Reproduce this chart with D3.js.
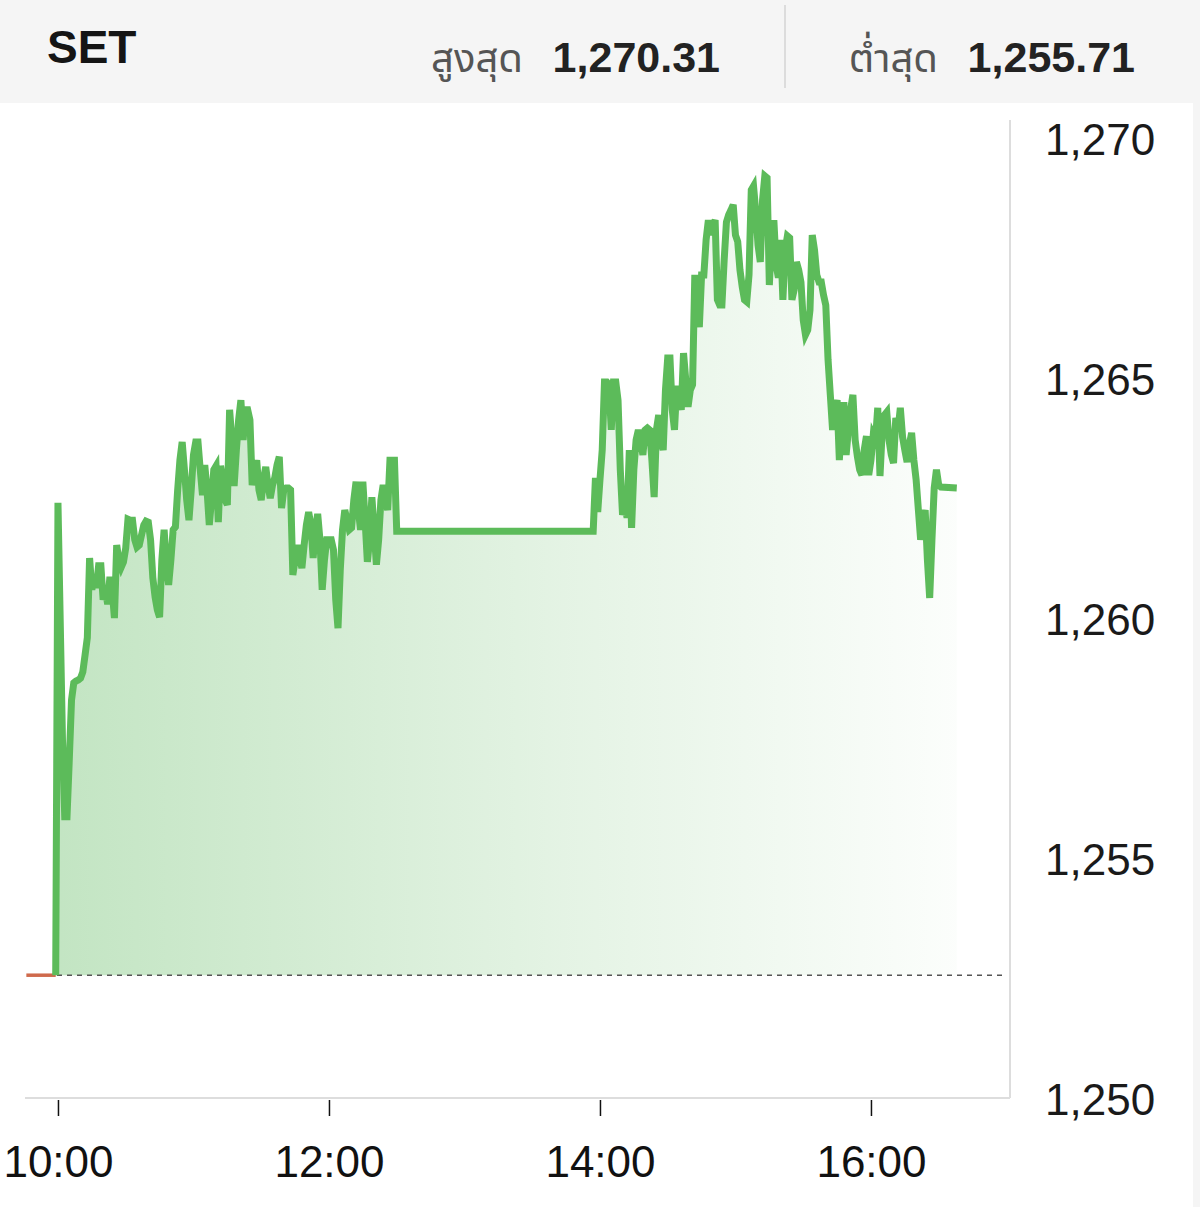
<!DOCTYPE html>
<html><head><meta charset="utf-8">
<script src="https://cdn.jsdelivr.net/npm/d3@7"></script>
<style>body{margin:0;background:#fff;} svg{display:block}</style>
</head><body>
<svg id="c" width="1200" height="1207"></svg>
<script>
const indexName = "SET";
const highLabel = "สูงสุด";
const highValue = 1270.31;
const lowLabel = "ต่ำสุด";
const lowValue = 1255.71;
const prevClose = 1252.60;
const yTicks = [1250, 1255, 1260, 1265, 1270];
const xTicks = ["10:00", "12:00", "14:00", "16:00"];
const preOpenTimes = ["09:46", "09:59"];
const preOpenPrices = [1252.60, 1252.60];

const times = [
"09:59","10:00","10:02","10:03","10:04","10:05","10:06","10:07","10:08","10:09","10:10","10:11","10:12","10:13","10:14","10:15","10:16","10:17","10:18","10:19","10:20","10:21","10:22","10:23","10:24","10:25","10:26","10:27","10:28","10:29","10:30","10:31","10:32","10:33","10:34","10:35","10:36","10:37","10:38","10:39","10:40","10:41","10:42","10:43","10:44","10:45","10:46","10:47","10:48","10:49","10:50","10:51","10:52","10:53","10:54","10:55","10:56","10:57","10:58","10:59",
"11:00","11:01","11:02","11:03","11:04","11:05","11:06","11:07","11:08","11:09","11:10","11:11","11:12","11:13","11:14","11:15","11:16","11:17","11:18","11:19","11:20","11:21","11:22","11:23","11:24","11:25","11:26","11:27","11:28","11:29","11:30","11:31","11:32","11:33","11:34","11:35","11:36","11:37","11:38","11:39","11:40","11:41","11:42","11:43","11:44","11:45","11:46","11:47","11:48","11:49","11:50","11:51","11:52","11:53","11:54","11:55","11:56","11:57","11:58","11:59",
"12:00","12:01","12:02","12:03","12:04","12:05","12:06","12:07","12:08","12:09","12:10","12:11","12:12","12:13","12:14","12:15","12:16","12:17","12:18","12:19","12:20","12:21","12:22","12:23","12:24","12:25","12:26","12:27","12:28","12:29","12:30",
"13:57","13:58","13:59",
"14:00","14:01","14:02","14:03","14:04","14:05","14:06","14:07","14:08","14:09","14:10","14:11","14:12","14:13","14:14","14:15","14:16","14:17","14:18","14:19","14:20","14:21","14:22","14:23","14:24","14:25","14:26","14:27","14:28","14:29","14:30","14:31","14:32","14:33","14:34","14:35","14:36","14:37","14:38","14:39","14:40","14:41","14:42","14:43","14:44","14:45","14:46","14:47","14:48","14:49","14:50","14:51","14:52","14:53","14:54","14:55","14:56","14:57","14:58","14:59",
"15:00","15:01","15:02","15:03","15:04","15:05","15:06","15:07","15:08","15:09","15:10","15:11","15:12","15:13","15:14","15:15","15:16","15:17","15:18","15:19","15:20","15:21","15:22","15:23","15:24","15:25","15:26","15:27","15:28","15:29","15:30","15:31","15:32","15:33","15:34","15:35","15:36","15:37","15:38","15:39","15:40","15:41","15:42","15:43","15:44","15:45","15:46","15:47","15:48","15:49","15:50","15:51","15:52","15:53","15:54","15:55","15:56","15:57","15:58","15:59",
"16:00","16:01","16:02","16:03","16:04","16:05","16:06","16:07","16:08","16:09","16:10","16:11","16:12","16:13","16:14","16:15","16:16","16:17","16:18","16:19","16:20","16:21","16:22","16:23","16:24","16:25","16:26","16:27","16:28","16:29","16:30","16:31","16:38"
];

const prices = [
1252.60,1262.44,1257.50,1255.90,1255.90,1257.08,1258.33,1258.69,1258.73,1258.75,1258.79,1258.92,1259.27,1259.63,1261.29,1260.63,1260.94,1260.67,1261.13,1261.13,1260.42,1260.63,1260.33,1260.90,1260.63,1260.04,1261.56,1261.25,1261.10,1261.21,1261.50,1262.10,1262.08,1262.08,1261.67,1261.52,1261.56,1261.77,1261.98,1262.06,1262.04,1261.67,1260.88,1260.48,1260.21,1260.06,1261.25,1261.88,1261.15,1260.73,1261.25,1261.88,1261.94,1262.71,1263.33,1263.71,1263.13,1262.50,1262.08,1262.71,
1263.44,1263.71,1263.71,1263.13,1262.60,1263.23,1262.71,1261.98,1262.50,1263.13,1263.21,1262.04,1263.21,1262.92,1262.50,1262.40,1264.38,1263.75,1262.79,1263.54,1264.17,1264.58,1263.75,1264.38,1264.38,1264.17,1262.81,1263.13,1263.33,1262.71,1262.50,1262.92,1263.19,1262.81,1262.54,1262.81,1262.96,1263.23,1263.40,1262.33,1262.71,1262.75,1262.75,1262.71,1260.94,1261.25,1261.56,1261.35,1261.08,1261.56,1261.98,1262.25,1261.98,1261.29,1261.88,1262.21,1261.67,1260.63,1261.25,1261.67,
1261.67,1261.67,1261.46,1260.42,1259.83,1261.04,1261.88,1262.29,1262.08,1261.88,1261.92,1262.50,1262.88,1262.29,1261.88,1262.88,1262.08,1261.21,1261.67,1262.56,1261.88,1261.15,1261.67,1262.50,1262.81,1262.50,1262.29,1263.33,1263.33,1263.33,1261.85,
1261.85,1262.96,1262.25,
1262.92,1263.54,1264.96,1264.96,1264.90,1263.96,1264.96,1264.96,1264.58,1263.13,1262.19,1262.40,1262.13,1263.54,1261.92,1263.13,1263.75,1263.96,1263.75,1263.44,1263.96,1264.00,1263.96,1263.33,1262.56,1263.96,1264.27,1263.75,1263.54,1264.79,1265.46,1265.46,1264.38,1263.96,1264.88,1264.58,1264.38,1265.56,1265.00,1264.44,1264.79,1264.90,1267.19,1266.67,1266.10,1267.19,1267.19,1267.92,1268.33,1268.02,1268.23,1268.33,1266.67,1266.56,1266.56,1267.50,1268.29,1268.44,1268.54,1268.65,
1268.02,1267.88,1267.29,1266.94,1266.67,1266.63,1267.19,1268.96,1269.04,1268.50,1267.81,1267.46,1268.75,1269.25,1269.21,1266.98,1267.92,1268.33,1267.40,1267.13,1267.92,1266.67,1267.71,1268.00,1267.96,1266.67,1266.88,1267.46,1267.29,1267.04,1266.25,1265.94,1266.04,1266.46,1268.02,1267.71,1267.19,1267.04,1267.04,1266.77,1266.56,1265.42,1264.69,1263.96,1264.38,1264.58,1263.33,1264.17,1264.54,1263.44,1263.96,1264.38,1264.69,1263.75,1263.40,1263.13,1263.02,1263.54,1263.83,1263.02,
1263.33,1263.85,1263.75,1264.42,1263.00,1263.96,1264.27,1264.33,1263.75,1263.44,1263.27,1264.21,1263.96,1264.42,1263.81,1263.54,1263.29,1263.65,1263.90,1263.33,1262.92,1262.29,1261.67,1262.08,1262.29,1261.25,1260.46,1261.67,1262.75,1263.13,1262.81,1262.77,1262.75
];

const parse = d3.timeParse("%H:%M");
const parseS = d3.timeParse("%H:%M:%S");
const n = Math.min(times.length, prices.length);
const data = d3.range(n).map(i => ({t: parse(times[i]), v: prices[i]}));
const preData = preOpenTimes.map((t, i) => ({t: parse(t), v: preOpenPrices[i]}));

const svg = d3.select("#c");
const FONT = "'Liberation Sans', Arial, Helvetica, sans-serif";
const THAI = "'Noto Sans Thai', 'Noto Sans Thai UI', 'Loma', 'Garuda', 'Noto Sans', sans-serif";

// header band
svg.append("rect").attr("x", 0).attr("y", 0).attr("width", 1200).attr("height", 103).attr("fill", "#f5f5f5");
svg.append("rect").attr("x", 1193).attr("y", 103).attr("width", 7).attr("height", 1104).attr("fill", "#f5f5f5");

svg.append("text").attr("x", 47).attr("y", 63).text(indexName)
  .attr("font-family", FONT).attr("font-weight", "bold").attr("font-size", 46).attr("fill", "#151515");

const fmt = d3.format(",.2f");
svg.append("text").attr("x", 523).attr("y", 72).attr("text-anchor", "end").text(highLabel)
  .attr("font-family", THAI).attr("font-size", 40).attr("fill", "#555");
svg.append("text").attr("x", 720).attr("y", 72).attr("text-anchor", "end").text(fmt(highValue))
  .attr("font-family", FONT).attr("font-weight", "bold").attr("font-size", 43).attr("fill", "#222");
svg.append("line").attr("x1", 785).attr("x2", 785).attr("y1", 5).attr("y2", 88).attr("stroke", "#dcdcdc").attr("stroke-width", 2);
svg.append("text").attr("x", 938).attr("y", 72).attr("text-anchor", "end").text(lowLabel)
  .attr("font-family", THAI).attr("font-size", 40).attr("fill", "#555");
svg.append("text").attr("x", 1135).attr("y", 72).attr("text-anchor", "end").text(fmt(lowValue))
  .attr("font-family", FONT).attr("font-weight", "bold").attr("font-size", 43).attr("fill", "#222");

// scales
const x = d3.scaleTime().domain([parseS("09:45:24"), parseS("17:01:34")]).range([25, 1010]);
const y = d3.scaleLinear().domain([1250, 1270]).range([1100, 140]);

// gradient
const defs = svg.append("defs");
const grad = defs.append("linearGradient").attr("id", "fillGrad")
  .attr("gradientUnits", "userSpaceOnUse")
  .attr("x1", x(data[0].t)).attr("x2", x(data[n - 1].t)).attr("y1", 0).attr("y2", 0);
grad.append("stop").attr("offset", 0).attr("stop-color", "#5cb85c").attr("stop-opacity", 0.37);
grad.append("stop").attr("offset", 0.55).attr("stop-color", "#5cb85c").attr("stop-opacity", 0.17);
grad.append("stop").attr("offset", 1).attr("stop-color", "#5cb85c").attr("stop-opacity", 0.02);

// axes frame lines
svg.append("line").attr("x1", 25).attr("x2", 1010).attr("y1", 1098).attr("y2", 1098).attr("stroke", "#dddddd").attr("stroke-width", 2);
svg.append("line").attr("x1", 1010).attr("x2", 1010).attr("y1", 120).attr("y2", 1098).attr("stroke", "#dddddd").attr("stroke-width", 2);

// area
const area = d3.area().x(d => x(d.t)).y0(y(prevClose)).y1(d => y(d.v)).curve(d3.curveLinear);
svg.append("path").datum(data).attr("d", area).attr("fill", "url(#fillGrad)");

// previous close dashed line
svg.append("line").attr("x1", 27).attr("x2", 1005).attr("y1", y(prevClose)).attr("y2", y(prevClose))
  .attr("stroke", "#555").attr("stroke-width", 1.4).attr("stroke-dasharray", "5,5");

// pre-open segment
const line = d3.line().x(d => x(d.t)).y(d => y(d.v));
svg.append("path").datum(preData).attr("d", line).attr("fill", "none")
  .attr("stroke", "#cf6a4c").attr("stroke-width", 3.5);

// price line
svg.append("path").datum(data).attr("d", line).attr("fill", "none")
  .attr("stroke", "#5cbb5a").attr("stroke-width", 7).attr("stroke-linejoin", "miter").attr("stroke-miterlimit", 4);

// x axis
const xAxis = d3.axisBottom(x).tickValues(xTicks.map(parse)).tickFormat(d3.timeFormat("%H:%M"))
  .tickSize(16).tickPadding(30);
const gx = svg.append("g").attr("transform", "translate(0,1100)").call(xAxis);
gx.select(".domain").remove();
gx.selectAll(".tick line").attr("stroke", "#111").attr("stroke-width", 1.5);
gx.selectAll(".tick text").attr("font-family", FONT).attr("font-size", 44).attr("fill", "#111");

// y axis
const yAxis = d3.axisRight(y).tickValues(yTicks).tickFormat(d3.format(",")).tickSize(0).tickPadding(35);
const gy = svg.append("g").attr("transform", "translate(1010,0)").call(yAxis);
gy.select(".domain").remove();
gy.selectAll(".tick text").attr("font-family", FONT).attr("font-size", 44).attr("fill", "#1a1a1a");
</script>
</body></html>
